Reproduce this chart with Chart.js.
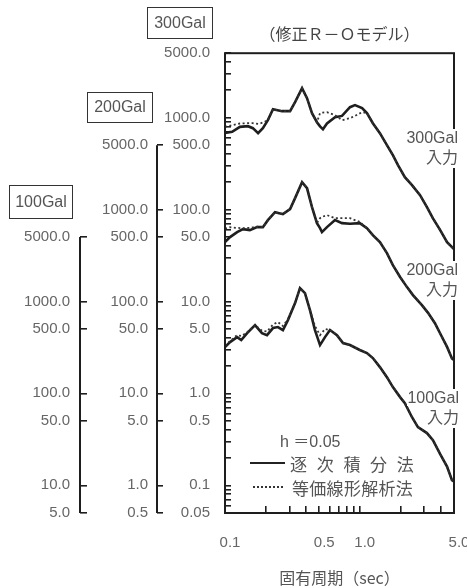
<!DOCTYPE html>
<html><head><meta charset="utf-8">
<script src="https://cdn.jsdelivr.net/npm/chart.js@4/dist/chart.umd.min.js"></script>
<style>
html,body{margin:0;padding:0;background:#fff;}
#wrap{position:relative;width:467px;height:588px;overflow:hidden;}
canvas{position:absolute;left:0;top:0;}
.t{position:absolute;font-family:"Liberation Sans","Noto Sans CJK JP",sans-serif;color:#555;white-space:nowrap;}
.box{border:1.5px solid #333;box-sizing:border-box;text-align:center;font-size:16px;}
.ann{text-align:right;font-size:16px;line-height:18px;}
.ann span{background:#fff;}
.cjk{font-family:"Noto Sans CJK JP",sans-serif;}
</style></head>
<body><div id="wrap">
<canvas id="c" width="467" height="588"></canvas>
<div class="t box" style="left:147px;top:7px;width:66px;height:32px;line-height:29px;">300Gal</div>
<div class="t box" style="left:87px;top:92px;width:66px;height:31px;line-height:28px;">200Gal</div>
<div class="t box" style="left:9px;top:185px;width:64px;height:34px;line-height:31px;">100Gal</div>
<div class="t ann" style="right:9px;top:129px;"><span>300Gal</span><br><span class="cjk">入力</span></div>
<div class="t ann" style="right:9px;top:261px;"><span>200Gal</span><br><span class="cjk">入力</span></div>
<div class="t ann" style="right:8px;top:389px;"><span>100Gal</span><br><span class="cjk">入力</span></div>
<div class="t" style="left:280px;top:433px;font-size:16px;line-height:18px;">h ＝0.05</div>
<div style="position:absolute;left:250px;top:462px;width:35px;border-top:2px solid #222;"></div>
<div class="t cjk" style="left:290px;top:454px;font-size:17px;line-height:20px;letter-spacing:9.7px;">逐次積分法</div>
<div style="position:absolute;left:253px;top:486px;width:30px;border-top:2px dotted #333;"></div>
<div class="t cjk" style="left:292px;top:478px;font-size:17px;line-height:20px;letter-spacing:0.3px;">等価線形解析法</div>
</div>
<script>
// ---- data ----
const periods300 = [0.1, 0.113, 0.129, 0.148, 0.161, 0.176, 0.191, 0.208, 0.227, 0.265, 0.304, 0.331, 0.373, 0.406, 0.442, 0.481, 0.507, 0.533, 0.571, 0.655, 0.738, 0.846, 0.921, 1.04, 1.13, 1.25, 1.41, 1.59, 1.76, 1.92, 2.16, 2.44, 2.80, 3.15, 3.49, 3.94, 4.44, 5.0];
const solid300 = [680, 698, 790, 804, 765, 675, 765, 935, 1231, 1171, 1171, 1467, 2083, 1622, 1114, 889, 800, 746, 860, 1008, 1040, 1294, 1361, 1263, 1114, 867, 675, 500, 389, 303, 224, 184, 143, 106, 80, 60, 44, 37];
const dotted300 = [790, 825, 860, 867, 867, 850, 880, 935, 1231, 1171, 1171, 1467, 2083, 1622, 1114, 889, 1114, 1130, 1142, 1060, 935, 983, 1040, 1142, 1114, 867, 675, 500, 389, 303, 224, 184, 143, 106, 80, 60, 44, 37];

const periods200 = [0.1, 0.109, 0.123, 0.136, 0.153, 0.173, 0.191, 0.208, 0.235, 0.269, 0.304, 0.331, 0.373, 0.406, 0.442, 0.481, 0.507, 0.524, 0.571, 0.655, 0.738, 0.846, 1.0, 1.13, 1.25, 1.41, 1.59, 1.76, 1.99, 2.24, 2.48, 2.89, 3.21, 3.61, 3.94, 4.44, 4.83, 5.0];
const solid200 = [441, 500, 567, 611, 596, 642, 642, 765, 935, 889, 1008, 1327, 1981, 1704, 1060, 710, 626, 567, 642, 765, 710, 700, 710, 626, 526, 441, 335, 248, 184, 143, 117, 91, 75, 58, 45, 32, 24, 23];
const dotted200 = [620, 640, 630, 626, 630, 650, 642, 765, 935, 889, 1008, 1327, 1981, 1704, 1060, 710, 804, 830, 867, 804, 804, 804, 730, 626, 526, 441, 335, 248, 184, 143, 117, 91, 75, 58, 45, 32, 24, 23];

const periods100 = [0.1, 0.109, 0.123, 0.132, 0.146, 0.167, 0.188, 0.205, 0.227, 0.247, 0.269, 0.293, 0.331, 0.360, 0.392, 0.427, 0.465, 0.507, 0.552, 0.601, 0.677, 0.751, 0.846, 1.0, 1.13, 1.25, 1.41, 1.59, 1.76, 1.99, 2.16, 2.44, 2.70, 3.15, 3.49, 3.94, 4.44, 4.83, 5.0];
const solid100 = [319, 361, 409, 380, 452, 553, 452, 430, 513, 526, 488, 626, 958, 1395, 1231, 804, 488, 335, 409, 488, 430, 352, 335, 296, 274, 242, 193, 150, 117, 91, 78, 55, 43, 37, 31, 22, 16, 11.4, 11];
const dotted100 = [330, 370, 430, 420, 460, 553, 480, 470, 560, 596, 540, 640, 958, 1395, 1231, 804, 540, 430, 500, 488, 430, 352, 335, 296, 274, 242, 193, 150, 117, 91, 78, 55, 43, 37, 31, 22, 16, 11.4, 11];

// tick labels
const labels300 = [5000, 1000, 500, 100, 50, 10, 5, 1, 0.5, 0.1, 0.05];
const labels200 = [5000, 1000, 500, 100, 50, 10, 5, 1, 0.5];
const labels100 = [5000, 1000, 500, 100, 50, 10, 5];
const xTicks = [0.1, 0.2, 0.3, 0.4, 0.5, 0.6, 0.7, 0.8, 0.9, 1, 2, 3, 4, 5];
const xLabels = [0.1, 0.5, 1, 5];

// ---- helpers ----
const fmt = v => v >= 1 ? v.toFixed(1) : String(v);
function minorLogTicks(min, max) {
  const out = [];
  for (let e = -3; e <= 6; e++) for (let m = 1; m <= 9; m++) {
    const v = Number((m * Math.pow(10, e)).toPrecision(3));
    if (v >= min * 0.9999 && v <= max * 1.0001) out.push(v);
  }
  return out;
}
const pts = (xs, ys) => xs.map((x, i) => ({x, y: ys[i]}));
const labelFont = {family: 'Liberation Sans', size: 15};
const ink = '#1e1e1e';
const labelColor = '#666';

function yAxis(min, max, tickVals, labelVals, width, weight, tickLen, pad) {
  return {
    type: 'logarithmic', position: 'left', min, max, weight,
    border: {display: false},
    grid: {display: true, drawOnChartArea: false, drawTicks: true, tickLength: -tickLen, color: ink, lineWidth: 1.6},
    ticks: {autoSkip: false, padding: pad, color: labelColor, font: labelFont,
      callback: v => labelVals.includes(v) ? fmt(v) : ''},
    afterBuildTicks: s => { s.ticks = tickVals.map(v => ({value: v})); },
    afterFit: s => { s.width = width; s.paddingTop = 0; s.paddingBottom = 0; s.paddingLeft = 0; s.paddingRight = 0; }
  };
}

const partialAxes = [['y200', labels200], ['y100', labels100]];
const framePlugin = {
  id: 'frame',
  afterDraw(chart) {
    const ctx = chart.ctx, a = chart.chartArea;
    ctx.save();
    ctx.strokeStyle = ink; ctx.lineWidth = 2;
    ctx.strokeRect(a.left, a.top, a.right - a.left, a.bottom - a.top);
    for (const [id, labs] of partialAxes) {
      const s = chart.scales[id];
      ctx.beginPath();
      ctx.moveTo(s.right, s.getPixelForValue(Math.max(...labs)));
      ctx.lineTo(s.right, s.getPixelForValue(Math.min(...labs)));
      ctx.stroke();
    }
    ctx.restore();
  }
};

const solidStyle = {borderColor: ink, borderWidth: 2.6, pointRadius: 0, tension: 0, fill: false};
const dotStyle = {borderColor: '#333', borderWidth: 1.8, borderDash: [2, 2.5], pointRadius: 0, tension: 0, fill: false};

new Chart(document.getElementById('c'), {
  type: 'line',
  data: {
    datasets: [
      {label: '等価線形解析法 300Gal', data: pts(periods300, dotted300), yAxisID: 'y300', ...dotStyle},
      {label: '等価線形解析法 200Gal', data: pts(periods200, dotted200), yAxisID: 'y200', ...dotStyle},
      {label: '等価線形解析法 100Gal', data: pts(periods100, dotted100), yAxisID: 'y100', ...dotStyle},
      {label: '逐次積分法 300Gal', data: pts(periods300, solid300), yAxisID: 'y300', ...solidStyle},
      {label: '逐次積分法 200Gal', data: pts(periods200, solid200), yAxisID: 'y200', ...solidStyle},
      {label: '逐次積分法 100Gal', data: pts(periods100, solid100), yAxisID: 'y100', ...solidStyle}
    ]
  },
  options: {
    responsive: false, animation: false, devicePixelRatio: 1,
    layout: {padding: {left: 0, right: 13, top: 0, bottom: 0}},
    plugins: {
      legend: {display: false}, tooltip: {enabled: false},
      title: {display: true, text: '（修正Ｒ－Ｏモデル）', fullSize: false, color: '#444',
        font: {family: 'Noto Sans CJK JP', size: 16, weight: 'normal'}, padding: {top: 24, bottom: 10}}
    },
    scales: {
      x: {
        type: 'logarithmic', position: 'bottom', min: 0.1, max: 5,
        border: {display: false},
        grid: {display: true, drawOnChartArea: false, drawTicks: true, tickLength: -7, color: ink, lineWidth: 1.6},
        ticks: {autoSkip: false, maxRotation: 0, minRotation: 0, padding: 28, labelOffset: 5, color: labelColor, font: labelFont,
          callback: v => xLabels.includes(v) ? v.toFixed(1) : ''},
        afterBuildTicks: s => { s.ticks = xTicks.map(v => ({value: v})); },
        afterFit: s => { s.height = 75; s.paddingLeft = 0; s.paddingRight = 0; },
        title: {display: true, text: '固有周期（sec）', color: '#555',
          font: {family: 'Noto Sans CJK JP', size: 16}, padding: {top: 0, bottom: 0}}
      },
      y300: yAxis(0.05, 5000, minorLogTicks(0.05, 5000), labels300, 68, 1, 6, 21),
      y200: yAxis(0.5, 50000, labels200, labels200, 77, 2, 6, 15),
      y100: yAxis(5, 500000, labels100, labels100, 80, 3, 7, 17)
    }
  },
  plugins: [framePlugin]
});
</script>
</body></html>
